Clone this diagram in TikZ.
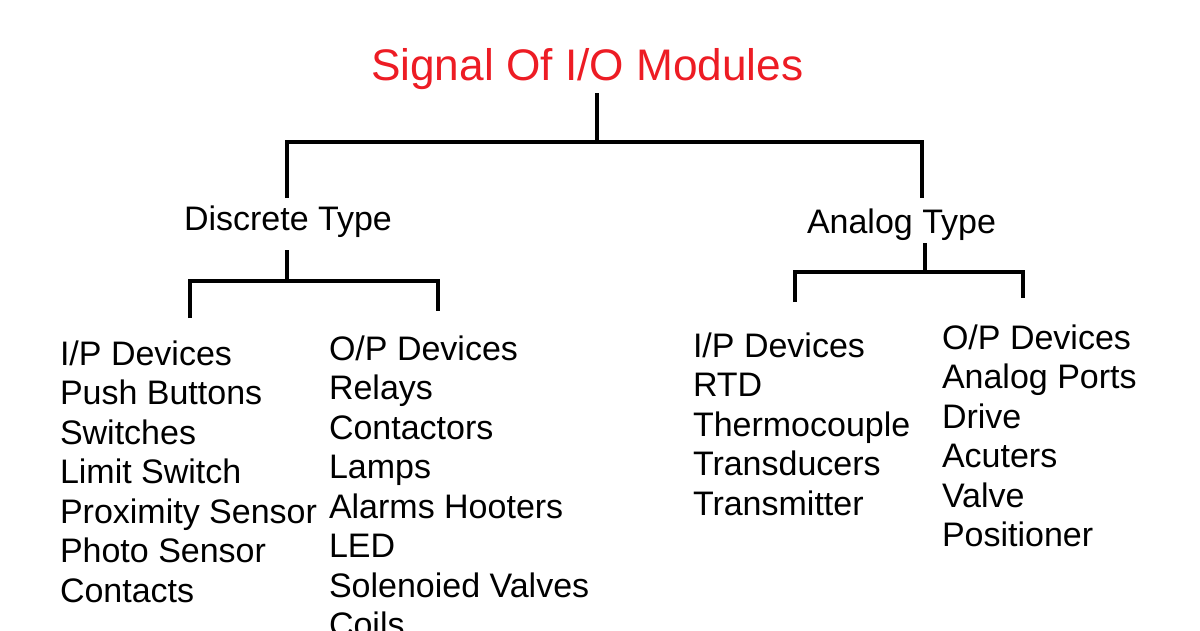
\documentclass[tikz,border=0pt]{standalone}
\usepackage{fontspec}
\setmainfont{Liberation Sans}
\definecolor{titlered}{RGB}{237,28,36}

\begin{document}
\begin{tikzpicture}[x=1pt,y=-1pt,line width=4pt,
  item node/.style={anchor=base west,inner sep=0pt,font=\fontsize{34}{39.5}\selectfont},
  title node/.style={item node,text=titlered,font=\fontsize{44.2}{50}\selectfont}]

    \useasboundingbox (0,0) rectangle (1200,630);
    \clip (0,0) rectangle (1200,630);

    \node[title node] (title) at (369,80) {Signal Of I/O Modules};
    \node[item node] (disc) at (182,230) {Discrete Type};
    \node[item node] (anlg) at (805,233) {Analog Type};

    \foreach \name [count=\i from 0] in {I/P Devices, Push Buttons, Switches,
        Limit Switch, Proximity Sensor, Photo Sensor, Contacts}
        \node[item node] (din\i) at (58,{365+39.5*\i}) {\name};

    \foreach \name [count=\i from 0] in {O/P Devices, Relays, Contactors, Lamps,
        Alarms Hooters, LED, Solenoied Valves, Coils}
        \node[item node] (dout\i) at (327,{360+39.5*\i}) {\name};

    \foreach \name [count=\i from 0] in {I/P Devices, RTD, Thermocouple,
        Transducers, Transmitter}
        \node[item node] (ain\i) at (691,{357+39.5*\i}) {\name};

    \foreach \name [count=\i from 0] in {O/P Devices, Analog Ports, Drive,
        Acuters, Valve, Positioner}
        \node[item node] (aout\i) at (940,{349+39.5*\i}) {\name};

    \coordinate (root) at (597,93);
    \coordinate (fork) at (597,142);
    \coordinate (disc top) at (287,198);
    \coordinate (anlg top) at (922,198);
    \draw (root) -- (fork);
    \draw (disc top) |- (fork) -| (anlg top);

    \coordinate (disc root) at (287,250);
    \coordinate (disc fork) at (287,281);
    \coordinate (din top) at (190,318);
    \coordinate (dout top) at (438,311);
    \draw (disc root) -- (disc fork);
    \draw (din top) |- (disc fork) -| (dout top);

    \coordinate (anlg root) at (925,243);
    \coordinate (anlg fork) at (925,272);
    \coordinate (ain top) at (795,302);
    \coordinate (aout top) at (1023,298);
    \draw (anlg root) -- (anlg fork);
    \draw (ain top) |- (anlg fork) -| (aout top);
\end{tikzpicture}
\end{document}
